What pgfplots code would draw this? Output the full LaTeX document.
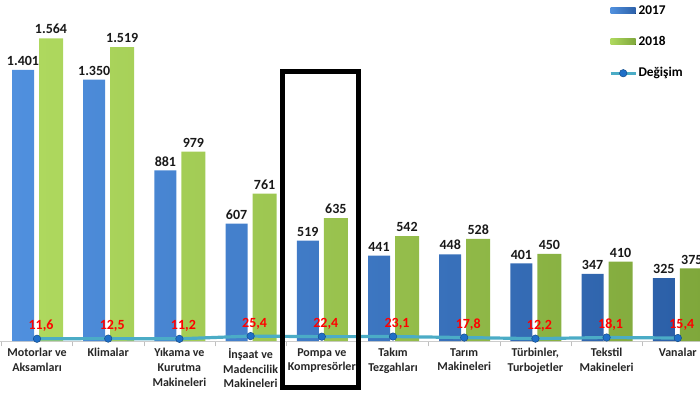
\documentclass[border=0pt]{standalone}
\usepackage{pgfplots}
\pgfplotsset{compat=1.18}
\usepackage{fontspec}
\setmainfont{Carlito}
\definecolor{bA}{HTML}{5090DE}
\definecolor{bB}{HTML}{2C60A8}
\definecolor{gA}{HTML}{AED85E}
\definecolor{gB}{HTML}{7FA73B}
\definecolor{lineC}{HTML}{4BACC6}
\definecolor{markC}{HTML}{1F6FC8}
\begin{document}
\begin{tikzpicture}
\begin{axis}[
  scale only axis, width=525pt, height=255.75pt,
  xmin=-0.52, xmax=9.312, ymin=0, ymax=1762,
  clip=false,
  axis x line*=bottom, axis y line=none,
  x axis line style={draw=gray!40, line width=0.6pt},
  xtick={0,...,9},
  xticklabels={{Motorlar ve\\Aksamları},{Klimalar},{Yıkama ve\\Kurutma\\Makineleri},{İnşaat ve\\Madencilik\\Makineleri},{Pompa ve\\Kompresörler},{Takım\\Tezgahları},{Tarım\\Makineleri},{Türbinler,\\Turbojetler},{Tekstil\\Makineleri},{Vanalar}},
  major tick length=0pt,
  minor xtick={-0.5,0.5,...,8.5},
  minor tick length=4pt, tick align=outside,
  minor tick style={gray!50},
  xticklabel style={align=center, font=\bfseries\fontsize{9}{11}\selectfont, text=black!85, yshift=-2pt},
  legend style={at={(rel axis cs:0.87,1)}, anchor=north west, yshift=-3pt, draw=none, fill=none, inner sep=0pt, row sep=13pt, font=\bfseries\fontsize{10}{12}\selectfont, nodes={inner sep=1pt}},
  legend cell align=left,
]
\addplot[ybar, bar width=16.5pt, bar shift=-10.5pt, draw=none, left color=bA, right color=bB,
  point meta=explicit symbolic, nodes near coords,
  every node near coord/.style={text=black!90, font=\bfseries\fontsize{10.5}{12}\selectfont, anchor=south, inner sep=2pt, yshift=1pt, xshift=-10.5pt},
  legend image code/.code={\fill[left color=bA, right color=bB] (0pt,-2.25pt) rectangle (18.75pt,2.25pt);}]
coordinates {(0,1401)[1.401] (1,1350)[1.350] (2,881)[881] (3,607)[607] (4,519)[519] (5,441)[441] (6,448)[448] (7,401)[401] (8,347)[347] (9,325)[325]};
\addlegendentry{2017}
\addplot[ybar, bar width=18pt, bar shift=10.5pt, draw=none, left color=gA, right color=gB,
  point meta=explicit symbolic, nodes near coords,
  every node near coord/.style={text=black!90, font=\bfseries\fontsize{10.5}{12}\selectfont, anchor=south, inner sep=2pt, yshift=1pt, xshift=10.5pt},
  legend image code/.code={\fill[left color=gA, right color=gB] (0pt,-2.25pt) rectangle (18.75pt,2.25pt);}]
coordinates {(0,1564)[1.564] (1,1519)[1.519] (2,979)[979] (3,761)[761] (4,635)[635] (5,542)[542] (6,528)[528] (7,450)[450] (8,410)[410] (9,375)[375]};
\addlegendentry{2018}
\addplot[sharp plot, color=lineC, line width=2.4pt, mark=*, mark size=2.8pt,
  mark options={draw=markC!70!black, fill=markC, line width=0.4pt},
  point meta=explicit symbolic, nodes near coords,
  every node near coord/.style={text=red, font=\bfseries\fontsize{10.5}{12}\selectfont, anchor=center, xshift=3pt, yshift=9.5pt},
  legend image code/.code={\draw[lineC, line width=2.2pt] (0pt,0pt) -- (18.75pt,0pt); \fill[markC, draw=markC!70!black, line width=0.4pt] (9.375pt,0pt) circle (2.8pt);}]
coordinates {(0,11.6)[11,6] (1,12.5)[12,5] (2,11.2)[11,2] (3,25.4)[25,4] (4,22.4)[22,4] (5,23.1)[23,1] (6,17.8)[17,8] (7,12.2)[12,2] (8,18.1)[18,1] (9,15.4)[15,4]};
\addlegendentry{Değişim}
\draw[line width=3.75pt] (axis cs:3.448,1393) rectangle (axis cs:4.515,-240);
\coordinate (ll) at (rel axis cs:0,0);
\coordinate (ur) at (rel axis cs:1,1);
\end{axis}
\pgfresetboundingbox
\path[use as bounding box] (ll) ++(0,-38.25pt) rectangle (ur);
\end{tikzpicture}
\end{document}
